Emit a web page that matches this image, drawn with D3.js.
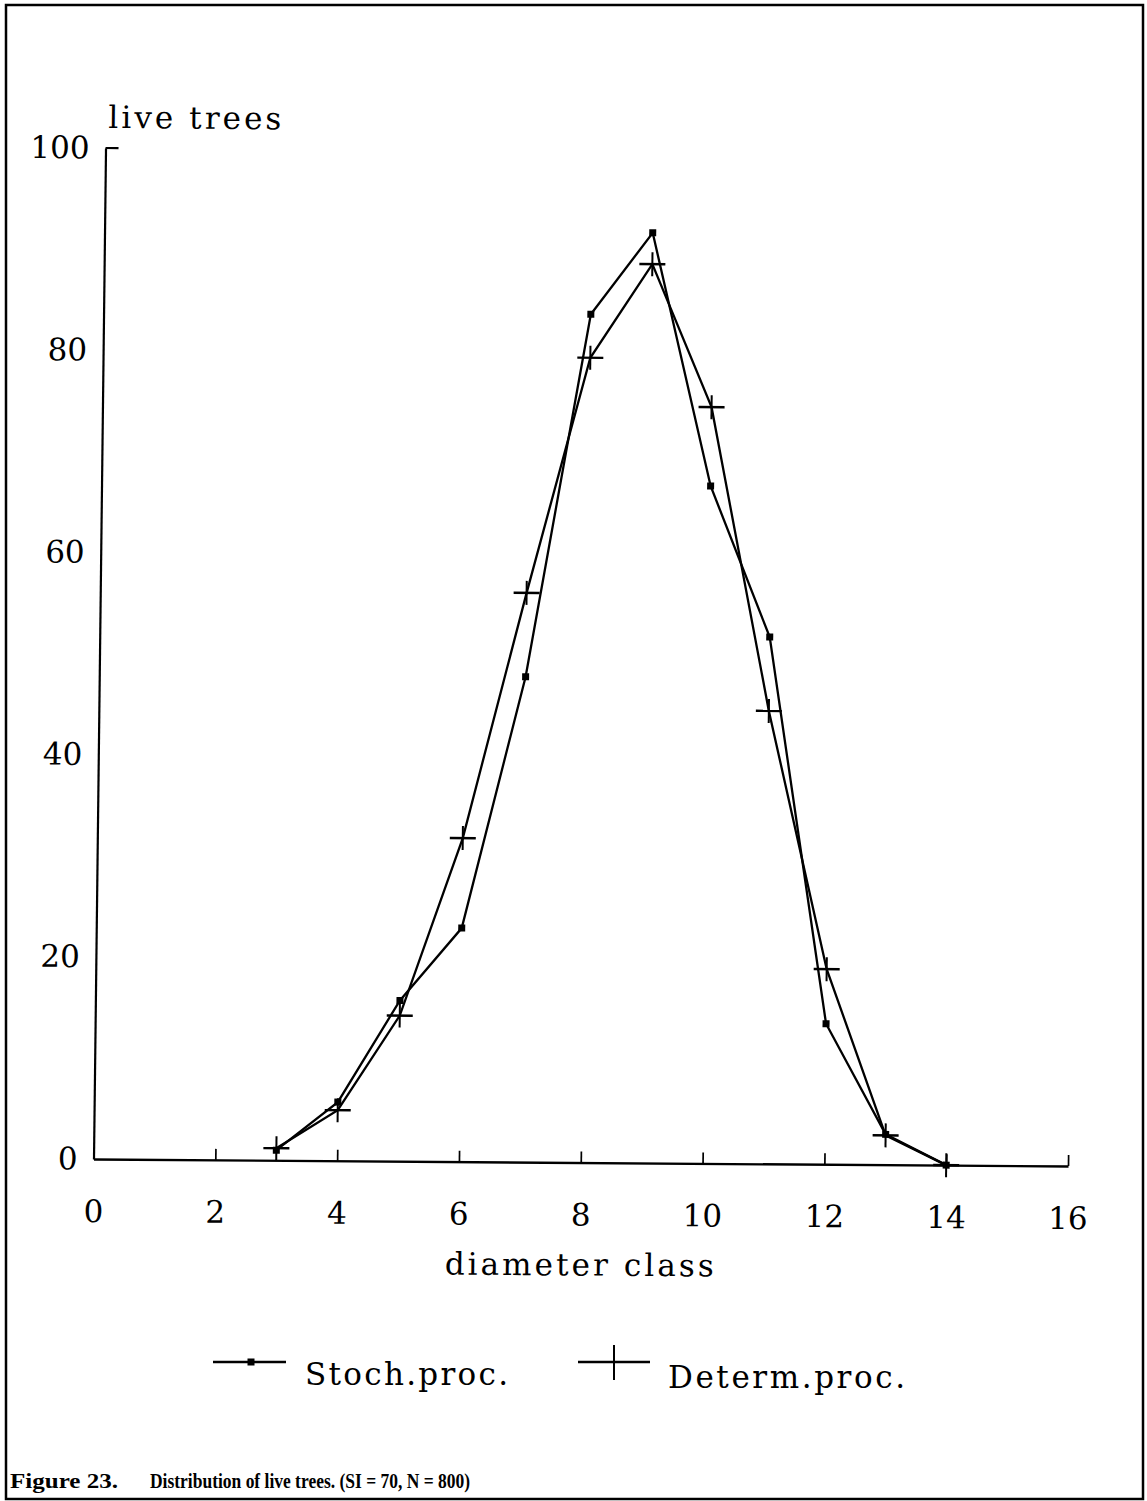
<!DOCTYPE html>
<html>
<head>
<meta charset="utf-8">
<script src="https://cdn.jsdelivr.net/npm/d3@7"></script>
<style>
  html, body { margin: 0; padding: 0; background: #fff; }
  svg { display: block; }
</style>
</head>
<body>
<svg id="chart" width="1147" height="1501"></svg>
<script>
// ---- data ----
const diameterClasses = [3, 4, 5, 6, 7, 8, 9, 10, 11, 12, 13, 14];
const stochValues  = [1.0, 5.8, 15.9, 23.1, 48.0, 83.9, 92.0, 67.0, 52.1, 13.9, 3.0, 0.0];
const determValues = [1.2, 5.0, 14.4, 32.0, 56.3, 79.6, 88.9, 74.8, 44.8, 19.3, 2.9, 0.0];
const xTicks = [0, 2, 4, 6, 8, 10, 12, 14, 16];
const yTicks = [0, 20, 40, 60, 80, 100];
const seriesNames = ["Stoch.proc.", "Determ.proc."];
const yTitle = "live trees";
const xTitle = "diameter class";
const caption = "Figure 23.";
const captionText = "Distribution of live trees. (SI = 70, N = 800)";

const svg = d3.select("#chart");
const FONT = "'DejaVu Serif', serif";

// page border
svg.append("rect").attr("x", 6).attr("y", 5).attr("width", 1137).attr("height", 1494)
  .attr("fill", "none").attr("stroke", "#000").attr("stroke-width", 2.5);

// plot area (scan is slightly skewed)
const ox = 93.5, oy = 1159;
const a = -0.0119, b = 0.0072;
const g = svg.append("g")
  .attr("transform", `matrix(1,${b},${a},1,${-a*oy},${-b*ox})`);

const x = d3.scaleLinear().domain([0, 16]).range([ox, 1068]);
const y = d3.scaleLinear().domain([0, 100]).range([oy, 148]);

// x axis
const xAxis = d3.axisBottom(x).tickValues(xTicks).tickSizeInner(-11).tickSizeOuter(0).tickPadding(41);
const gx = g.append("g").attr("transform", `translate(0,${oy})`).call(xAxis);
gx.select(".domain").attr("stroke-width", 2.4);
gx.selectAll(".tick line").attr("stroke-width", 1.7);
gx.selectAll(".tick").filter(d => d === 0).select("line").remove();
gx.selectAll("text").attr("font-family", FONT).attr("font-size", 31).attr("fill", "#000");

// y axis
const yAxis = d3.axisLeft(y).tickValues(yTicks).tickSize(0).tickPadding(16);
const gy = g.append("g").attr("transform", `translate(${ox},0)`).call(yAxis);
gy.select(".domain").attr("stroke-width", 2.2);
gy.selectAll("text").attr("font-family", FONT).attr("font-size", 31).attr("fill", "#000");
// top cap
g.append("line").attr("x1", ox).attr("x2", ox + 13).attr("y1", y(100)).attr("y2", y(100))
  .attr("stroke", "#000").attr("stroke-width", 2.2);

// titles
g.append("text").attr("x", 96).attr("y", 128).attr("font-family", FONT).attr("font-size", 31)
  .attr("textLength", 173).attr("lengthAdjust", "spacing").text(yTitle);
g.append("text").attr("x", 446).attr("y", 1272).attr("font-family", FONT).attr("font-size", 31)
  .attr("textLength", 269).attr("lengthAdjust", "spacing").text(xTitle);

// lines
const line = d3.line().x(d => x(d[0])).y(d => y(d[1]));
const stoch = diameterClasses.map((d, i) => [d, stochValues[i]]);
const determ = diameterClasses.map((d, i) => [d, determValues[i]]);

g.append("path").datum(stoch).attr("d", line).attr("fill", "none").attr("stroke", "#000").attr("stroke-width", 2.3);
g.append("path").datum(determ).attr("d", line).attr("fill", "none").attr("stroke", "#000").attr("stroke-width", 2.3);

g.selectAll(".sq").data(stoch).enter().append("rect")
  .attr("x", d => x(d[0]) - 3.5).attr("y", d => y(d[1]) - 3.5)
  .attr("width", 7).attr("height", 7).attr("fill", "#000");

function cross(sel, cx, cy) {
  sel.append("line").attr("x1", cx - 13).attr("x2", cx + 13).attr("y1", cy).attr("y2", cy)
    .attr("stroke", "#000").attr("stroke-width", 2.4);
  sel.append("line").attr("x1", cx).attr("x2", cx).attr("y1", cy - 12).attr("y2", cy + 12)
    .attr("stroke", "#000").attr("stroke-width", 2);
}
determ.forEach(d => cross(g, x(d[0]), y(d[1])));

// legend
const lg = svg.append("g");
lg.append("line").attr("x1", 213).attr("x2", 286).attr("y1", 1362).attr("y2", 1362)
  .attr("stroke", "#000").attr("stroke-width", 2.4);
lg.append("rect").attr("x", 251 - 3.5).attr("y", 1362 - 3.5).attr("width", 7).attr("height", 7).attr("fill", "#000");
lg.append("text").attr("x", 305).attr("y", 1385).attr("font-family", FONT).attr("font-size", 31)
  .attr("textLength", 203).attr("lengthAdjust", "spacing").text(seriesNames[0]);
lg.append("line").attr("x1", 578).attr("x2", 650).attr("y1", 1362).attr("y2", 1362)
  .attr("stroke", "#000").attr("stroke-width", 2.4);
lg.append("line").attr("x1", 614).attr("x2", 614).attr("y1", 1345).attr("y2", 1380)
  .attr("stroke", "#000").attr("stroke-width", 2);
lg.append("text").attr("x", 668).attr("y", 1388).attr("font-family", FONT).attr("font-size", 31)
  .attr("textLength", 237).attr("lengthAdjust", "spacing").text(seriesNames[1]);

// caption
svg.append("text").attr("x", 10).attr("y", 1488).attr("font-family", "'Liberation Serif', serif")
  .attr("font-weight", "bold").attr("font-size", 21)
  .attr("textLength", 108).attr("lengthAdjust", "spacingAndGlyphs").text(caption);
svg.append("text").attr("x", 150).attr("y", 1488).attr("font-family", "'Liberation Serif', serif")
  .attr("font-weight", "bold").attr("font-size", 21)
  .attr("textLength", 320).attr("lengthAdjust", "spacingAndGlyphs").text(captionText);
</script>
</body>
</html>
